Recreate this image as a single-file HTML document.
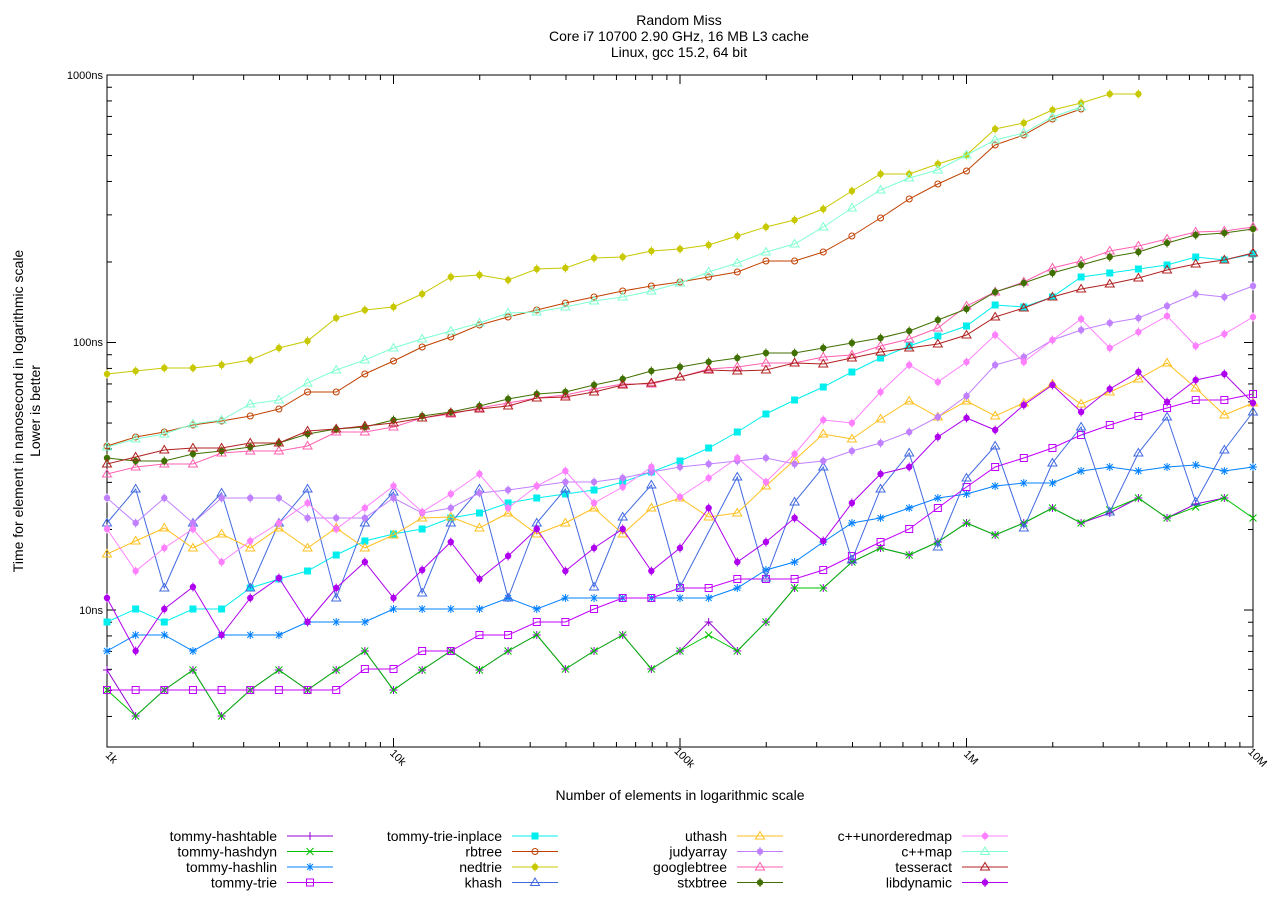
<!DOCTYPE html>
<html><head><meta charset="utf-8"><style>
body{margin:0;background:#fff}
svg{display:block;font-family:"Liberation Sans",sans-serif}
</style></head><body>
<svg id="s" width="1280" height="900" xmlns="http://www.w3.org/2000/svg">
<rect width="1280" height="900" fill="#fff"/>
<g font-size="14" text-anchor="middle" fill="#000">
<text x="679" y="25">Random Miss</text>
<text x="679" y="41">Core i7 10700 2.90 GHz, 16 MB L3 cache</text>
<text x="679" y="57">Linux, gcc 15.2, 64 bit</text>
<text x="680" y="800">Number of elements in logarithmic scale</text>
<text transform="translate(23,411) rotate(-90)">Time for element in nanosecond in logarithmic scale</text>
<text transform="translate(40,411) rotate(-90)">Lower is better</text>
</g>
<g font-size="11" text-anchor="end">
<text x="103" y="79">1000ns</text>
<text x="103" y="346">100ns</text>
<text x="103" y="614">10ns</text>
</g>
<g id="ax"></g>
<g id="pl"></g>
<g id="lg" font-size="14" text-anchor="end"></g>
</svg>
<script>
var NS="http://www.w3.org/2000/svg";
function el(p,t,a,txt){var e=document.createElementNS(NS,t);for(var k in a)e.setAttribute(k,a[k]);if(txt)e.textContent=txt;p.appendChild(e);return e;}
var ax=document.getElementById('ax'),pl=document.getElementById('pl'),lg=document.getElementById('lg');
var X0=107,X1=1253,Y0=75,Y1=747,DX=286.5,DY=267.5;
el(ax,'rect',{x:X0,y:Y0,width:X1-X0,height:Y1-Y0,fill:'none',stroke:'#000','stroke-width':1});
for(var d=0;d<3;d++){for(var m=1;m<=9;m++){
 var y=610-(d-1)*DY-Math.log10(m)*DY; if(y<Y0-0.5||y>Y1)continue; var L=m==1?9:5;
 el(ax,'line',{x1:X0,x2:X0+L,y1:y,y2:y,stroke:'#000'});el(ax,'line',{x1:X1,x2:X1-L,y1:y,y2:y,stroke:'#000'});}}
var xl=['1k','10k','100k','1M','10M'];
for(var d=0;d<=4;d++){for(var m=1;m<=9;m++){var x=X0+d*DX+Math.log10(m)*DX;if(x>X1+0.5)continue;var L=m==1?9:5;
 el(ax,'line',{x1:x,x2:x,y1:Y1,y2:Y1-L,stroke:'#000'});el(ax,'line',{x1:x,x2:x,y1:Y0,y2:Y0+L,stroke:'#000'});}
 var xx=X0+d*DX; el(ax,'text',{transform:'translate('+(xx+2)+',760) rotate(45)','font-size':'11','text-anchor':'middle'},xl[d]);}
function px(i){return X0+i*28.65;}
function mk(g,type,x,y,c){
 if(type=='plus'){el(g,'path',{d:'M'+(x-4)+' '+y+'h8M'+x+' '+(y-4)+'v8',stroke:c,fill:'none'});}
 else if(type=='x'){el(g,'path',{d:'M'+(x-3.5)+' '+(y-3.5)+'l7 7M'+(x-3.5)+' '+(y+3.5)+'l7 -7',stroke:c,fill:'none'});}
 else if(type=='star'){el(g,'path',{d:'M'+(x-4)+' '+y+'h8M'+x+' '+(y-4)+'v8M'+(x-3)+' '+(y-3)+'l6 6M'+(x-3)+' '+(y+3)+'l6 -6',stroke:c,fill:'none'});}
 else if(type=='osq'){el(g,'rect',{x:x-3.5,y:y-3.5,width:7,height:7,stroke:c,fill:'none'});}
 else if(type=='fsq'){el(g,'rect',{x:x-3.5,y:y-3.5,width:7,height:7,fill:c});}
 else if(type=='ocir'){el(g,'circle',{cx:x,cy:y,r:3,stroke:c,fill:'none'});}
 else if(type=='fcir'){el(g,'circle',{cx:x,cy:y,r:3.2,fill:c});el(g,'path',{d:'M'+x+' '+(y-4.5)+'v9',stroke:c});}
 else if(type=='otri'){el(g,'path',{d:'M'+x+' '+(y-4.5)+'l4.5 7.5h-9z',stroke:c,fill:'none'});}
}
var S=[
['tommy-hashtable','#9400d3','plus',[670,716,690,670,716,690,670,690,670,651,690,670,651,670,651,635,669,651,635,669,651,622,651,622,588,588,562,548,555,542,523,535,523,508,523,513,498,518,504,498]],
['tommy-hashdyn','#00c000','x',[690,716,690,670,716,690,670,690,670,651,690,670,651,670,651,635,669,651,635,669,651,635,651,622,588,588,562,548,555,542,523,535,523,508,523,510,498,518,507,498,518]],
['tommy-hashlin','#0080ff','star',[651,635,635,651,635,635,635,622,622,622,609,609,609,609,598,609,598,598,598,598,598,598,588,570,562,542,523,518,508,498,494,486,483,483,471,467,471,467,465,471,467]],
['tommy-trie','#c000ff','osq',[690,690,690,690,690,690,690,690,690,669,669,651,651,635,635,622,622,609,598,598,588,588,579,579,579,570,556,542,529,508,487,467,458,448,435,425,416,408,400,400,394]],
['tommy-trie-inplace','#00eeee','fsq',[622,609,622,609,609,588,579,571,555,541,534,529,518,513,503,498,494,490,482,472,461,448,432,414,400,387,372,358,346,336,326,305,307,297,277,273,269,265,257,260,254]],
['rbtree','#c04000','ocir',[446,437,432,425,421,416,409,392,392,374,361,347,337,325,317,310,303,297,291,286,282,277,272,261,261,252,236,218,199,184,171,145,135,119,109]],
['nedtrie','#c8c800','fcir',[374,371,368,368,365,360,348,341,318,310,307,294,277,275,280,269,268,258,257,251,249,245,236,227,220,209,191,174,174,164,155,129,123,110,103,94,94]],
['khash','#4169e1','otri',[523,489,588,523,493,588,523,489,598,523,492,593,523,489,598,523,489,587,517,485,587,532,477,578,502,467,560,489,453,547,478,446,528,463,427,512,453,417,502,450,412]],
['uthash','#ffc020','otri',[554,541,528,548,534,548,528,548,528,548,535,518,517,528,513,534,523,508,534,508,498,517,513,486,460,434,439,419,401,417,401,416,403,384,404,392,379,363,388,415,403]],
['judyarray','#c080ff','fcir',[498,523,498,523,498,498,498,518,518,518,498,513,508,493,490,486,482,482,478,472,467,464,461,458,464,461,451,443,432,417,396,365,357,340,330,323,318,306,294,297,286]],
['googlebtree','#ff60b0','otri',[474,467,464,464,453,451,451,446,432,432,427,418,414,408,403,398,395,389,384,384,377,369,367,363,363,357,355,346,339,328,306,292,282,268,261,251,246,239,232,231,227]],
['stxbtree','#407000','fcir',[458,461,461,454,451,447,443,434,429,427,420,416,412,406,399,394,392,385,379,371,367,362,358,353,353,348,343,338,331,320,309,292,283,273,265,257,252,243,235,233,229]],
['c++unorderedmap','#ff80ff','fcir',[529,571,548,529,562,541,523,503,529,508,486,512,494,474,508,486,471,503,487,467,497,478,458,482,454,420,423,392,365,382,362,335,362,340,319,348,332,316,346,334,317]],
['c++map','#80ffd0','otri',[447,439,434,424,420,404,400,383,370,360,348,339,331,323,313,312,307,301,297,291,283,272,263,252,244,227,208,190,178,170,155,140,133,117,107]],
['tesseract','#b02020','otri',[464,457,450,448,448,443,443,431,429,426,423,418,413,409,406,398,397,392,385,383,377,370,371,370,363,364,358,352,348,344,335,317,308,297,289,284,278,270,264,260,253]],
['libdynamic','#b000f0','fcir',[598,651,609,587,635,598,578,622,588,562,598,570,542,579,556,529,571,548,529,571,548,508,562,542,518,541,503,474,467,437,418,430,405,385,412,389,372,402,380,374,403]]
];
var cols=[[277,287],[502,512],[727,737],[952,962]];
S.forEach(function(s,k){
 var g=el(pl,'g',{});var d='';s[3].forEach(function(y,i){d+=(i?'L':'M')+px(i).toFixed(1)+' '+y;});
 el(g,'path',{d:d,stroke:s[1],fill:'none','stroke-width':1});
 s[3].forEach(function(y,i){ if(s[0]=='khash'&&i==21)return; mk(g,s[2],px(i),y,s[1]);});
 var c=cols[Math.floor(k/4)],r=k%4,yy=836+r*15.5;
 el(lg,'text',{x:c[0],y:yy+5},s[0]);
 el(lg,'line',{x1:c[1],x2:c[1]+46,y1:yy,y2:yy,stroke:s[1]});
 mk(lg,s[2],c[1]+23,yy,s[1]);
});
</script>
</body></html>
